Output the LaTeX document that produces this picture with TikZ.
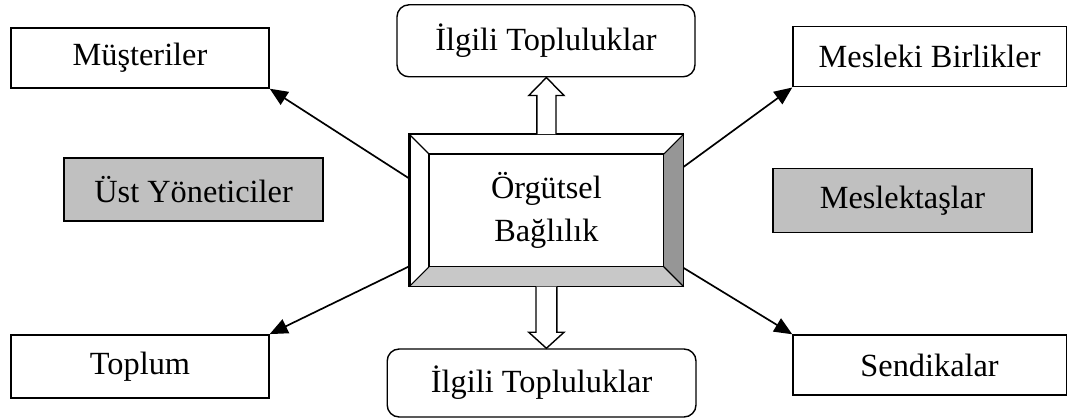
\documentclass[tikz,border=0pt]{standalone}
\usepackage{fontspec}
\setmainfont{Liberation Serif}
\usetikzlibrary{calc,arrows.meta}

\definecolor{kutugri}{RGB}{192,192,192}
\definecolor{koyugri}{RGB}{150,150,150}
\definecolor{acikgri}{RGB}{200,200,200}

\begin{document}
\begin{tikzpicture}[
        kutu/.style={draw, line width=1pt, fill=white, minimum height=1.5cm,
            font=\fontsize{23}{30}\selectfont},
        yuvarlak/.style={kutu, rounded corners=0.3cm},
        gri/.style={kutu, fill=kutugri},
        ok/.style={line width=1.2pt, -{Triangle[length=0.45cm,width=0.38cm]}},
        blokok/.style={draw, line width=1pt, fill=white}]
    \useasboundingbox (0,0) rectangle (26.75,10.45);
    % merkez
    \node[draw, line width=1pt, minimum width=6.83cm, minimum height=3.78cm] (orgut) at (13.66,5.19) {};
    \fill[white] (orgut.north west) -- (orgut.north east) -- ($(orgut.north east)+(-0.5,-0.5)$)
        -- ($(orgut.north west)+(0.5,-0.5)$) -- cycle;
    \fill[koyugri] (orgut.north east) -- (orgut.south east) -- ($(orgut.south east)+(-0.5,0.5)$)
        -- ($(orgut.north east)+(-0.5,-0.5)$) -- cycle;
    \fill[acikgri] (orgut.south west) -- (orgut.south east) -- ($(orgut.south east)+(-0.5,0.5)$)
        -- ($(orgut.south west)+(0.5,0.5)$) -- cycle;
    \draw[line width=1pt] (orgut.north west) rectangle (orgut.south east);
    \draw[line width=1pt] ($(orgut.north west)+(0.5,-0.5)$) rectangle ($(orgut.south east)+(-0.5,0.5)$);
    \draw[line width=0.8pt] (orgut.north west) -- ++(0.5,-0.5)
        (orgut.north east) -- ++(-0.5,-0.5)
        (orgut.south west) -- ++(0.5,0.5)
        (orgut.south east) -- ++(-0.5,0.5);
    \node[align=center, font=\fontsize{23}{30.6}\selectfont] (orgutyazi) at (orgut.center) {Örgütsel\\Bağlılık};

    % cevre kutulari
    \node[kutu, minimum width=6.45cm] (musteri) at (3.5,9.0) {Müşteriler};
    \node[gri, minimum width=6.48cm, minimum height=1.58cm] (ust) at (4.84,5.71) {Üst Yöneticiler};
    \node[kutu, minimum width=6.45cm, minimum height=1.58cm] (toplum) at (3.5,1.29) {Toplum};
    \node[yuvarlak, minimum width=7.45cm, minimum height=1.8cm] (ilgiliust) at (13.65,9.43) {İlgili Topluluklar};
    \node[yuvarlak, minimum width=7.72cm, minimum height=1.7cm] (ilgilialt) at (13.54,0.875) {İlgili Topluluklar};
    \node[kutu, minimum width=6.83cm] (mesleki) at (23.24,9.03) {Mesleki Birlikler};
    \node[gri, minimum width=6.48cm, minimum height=1.6cm] (meslektas) at (22.56,5.43) {Meslektaşlar};
    \node[kutu, minimum width=6.83cm] (sendika) at (23.24,1.325) {Sendikalar};

    % oklar
    \draw[ok] ($(orgut.west)+(0,0.8)$) -- (musteri.south east);
    \draw[ok] ($(orgut.west)+(0,-1.4)$) -- (toplum.north east);
    \draw[ok] ($(orgut.east)+(0,1.09)$) -- (mesleki.south west);
    \draw[ok] ($(orgut.east)+(0,-1.44)$) -- (sendika.north west);

    % blok oklar
    \draw[blokok] let \p1=(orgut.north), \p2=(ilgiliust.south) in
        (\x1-0.24cm,\y1) -- (\x1-0.24cm,\y2-0.45cm) -- (\x1-0.44cm,\y2-0.45cm) -- (\x1,\y2)
        -- (\x1+0.44cm,\y2-0.45cm) -- (\x1+0.24cm,\y2-0.45cm) -- (\x1+0.24cm,\y1);
    \draw[blokok] let \p1=(orgut.south), \p2=(ilgilialt.north) in
        (\x1-0.26cm,\y1) -- (\x1-0.26cm,\y2+0.4cm) -- (\x1-0.44cm,\y2+0.4cm) -- (\x1,\y2)
        -- (\x1+0.44cm,\y2+0.4cm) -- (\x1+0.26cm,\y2+0.4cm) -- (\x1+0.26cm,\y1);
\end{tikzpicture}
\end{document}
